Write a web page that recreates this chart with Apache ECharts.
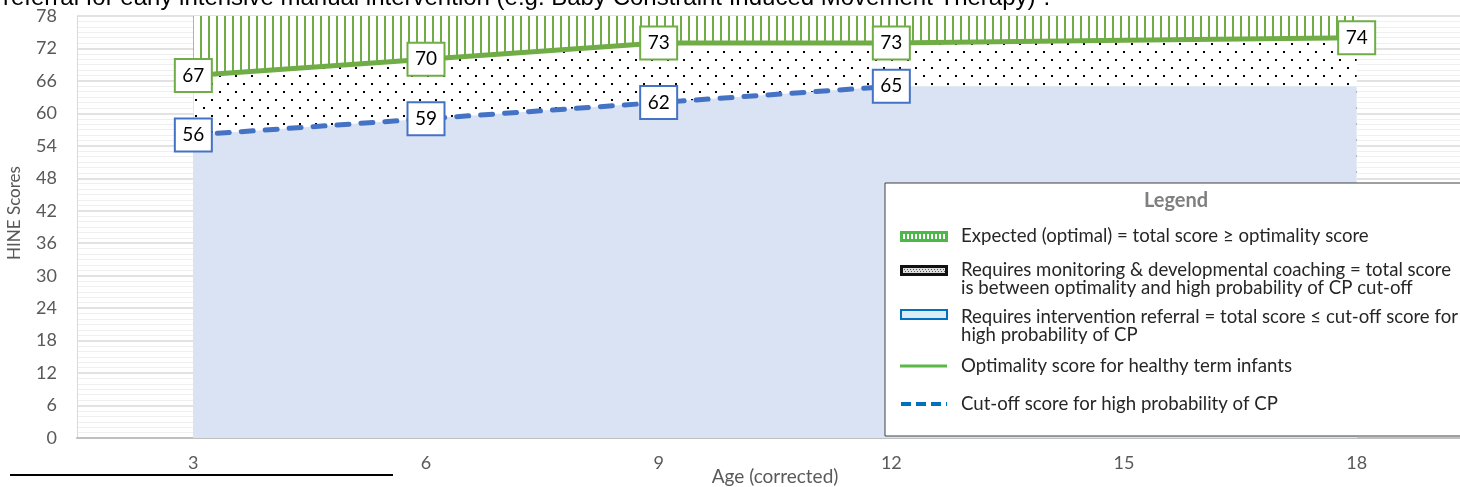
<!DOCTYPE html>
<html>
<head>
<meta charset="utf-8">
<script src="https://cdn.jsdelivr.net/npm/echarts@6/dist/echarts.min.js"></script>
<style>
html,body{margin:0;padding:0;background:#fff;}
#chart{width:1460px;height:487px;}
</style>
</head>
<body>
<div id="chart"></div>
<script>
// ---- data ----
const ages = ['3', '6', '9', '12', '15', '18'];
const yTicks = [0, 6, 12, 18, 24, 30, 36, 42, 48, 54, 60, 66, 72, 78];
const optimality = [67, 70, 73, 73, 73.5, 74];          // green line
const optimalityLabelAges = ['3', '6', '9', '12', '18'];
const cutoff = [56, 59, 62, 65, null, null];            // blue dashed line
const referralZone = [56, 59, 62, 65, 65, 65];          // top of light blue zone
const expectedZoneTop = [78, 78, 78, 78, 78, 78];       // top of hatched zone

const titleText = 'referral for early intensive manual intervention (e.g. Baby Constraint Induced Movement Therapy)\u201D.';
const legendTitle = 'Legend';
const legendLines = [
  ['Expected (optimal) = total score \u2265 optimality score'],
  ['Requires monitoring & developmental coaching = total score', 'is between optimality and high probability of CP cut-off'],
  ['Requires intervention referral = total score \u2264 cut-off score for', 'high probability of CP'],
  ['Optimality score for healthy term infants'],
  ['Cut-off score for high probability of CP']
];

// ---- patterns ----
function hatchPattern() {
  const c = document.createElement('canvas'); c.width = 8; c.height = 8;
  const g = c.getContext('2d');
  g.fillStyle = '#fff'; g.fillRect(0, 0, 8, 8);
  g.fillStyle = '#70AD47'; g.fillRect(0, 0, 2, 8);
  return c;
}
function dotPattern() {
  const c = document.createElement('canvas'); c.width = 16; c.height = 16;
  const g = c.getContext('2d');
  g.fillStyle = '#fff'; g.fillRect(0, 0, 16, 16);
  g.fillStyle = '#000'; g.fillRect(3, 3, 2, 2); g.fillRect(11, 11, 2, 2);
  return c;
}
function iconHatch() {
  const c = document.createElement('canvas'); c.width = 48; c.height = 11;
  const g = c.getContext('2d');
  g.fillStyle = '#4CB848'; g.fillRect(0, 0, 48, 11);
  g.fillStyle = '#fff';
  for (let x = 3; x < 45; x += 4) g.fillRect(x, 3, 2, 5);
  return c.toDataURL();
}
function iconDots() {
  const c = document.createElement('canvas'); c.width = 48; c.height = 11;
  const g = c.getContext('2d');
  g.fillStyle = '#111'; g.fillRect(0, 0, 48, 11);
  g.fillStyle = '#ddd'; g.fillRect(3, 3, 42, 5);
  g.fillStyle = '#555';
  for (let x = 4; x < 45; x += 3) { g.fillRect(x, 4, 1, 1); g.fillRect(x + 1, 6, 1, 1); }
  return c.toDataURL();
}

const FONT = 'Lato, "Open Sans", sans-serif';
const labelBox = (border) => ({
  show: true, position: 'inside', color: '#000', fontSize: 19, fontFamily: FONT, opacity: 1,
  backgroundColor: '#fff', borderColor: border, borderWidth: 2,
  width: 35, height: 31, lineHeight: 31, align: 'center', verticalAlign: 'middle', padding: 0
});

const chart = echarts.init(document.getElementById('chart'), null, {renderer: 'canvas'});

// legend graphic
const LX = 885, LY = 183, LZ = 200;
const legendG = [
  {type: 'rect', z: LZ, shape: {x: LX, y: LY, width: 600, height: 253}, style: {fill: '#fff', stroke: '#404040', lineWidth: 1}},
  {type: 'text', z: LZ + 1, x: 1176, y: 201, style: {text: legendTitle, font: 'bold 20px ' + FONT, fill: '#7F7F7F', align: 'center', verticalAlign: 'middle'}},
  {type: 'image', z: LZ + 1, style: {image: iconHatch(), x: 900, y: 231, width: 48, height: 11}},
  {type: 'image', z: LZ + 1, style: {image: iconDots(), x: 900, y: 265, width: 48, height: 11}},
  {type: 'rect', z: LZ + 1, shape: {x: 901, y: 310, width: 46, height: 9}, style: {fill: '#DDEBF7', stroke: '#0070C0', lineWidth: 2}},
  {type: 'line', z: LZ + 1, shape: {x1: 900, y1: 366, x2: 947, y2: 366}, style: {stroke: '#5DB947', lineWidth: 3}},
  {type: 'line', z: LZ + 1, shape: {x1: 901, y1: 404, x2: 947, y2: 404}, style: {stroke: '#0070C0', lineWidth: 4, lineDash: [10, 5]}}
];
const legendTextY = [[236], [270, 288], [317, 335], [366], [404]];
legendLines.forEach((lines, i) => {
  lines.forEach((t, j) => {
    legendG.push({type: 'text', z: LZ + 1, x: 961, y: legendTextY[i][j],
      style: {text: t, font: '18.6px ' + FONT, fill: '#262626', align: 'left', verticalAlign: 'middle'}});
  });
});

const option = {
  animation: false,
  backgroundColor: '#fff',
  grid: {left: 77, top: 16, width: 1396, height: 422, containLabel: false, outerBoundsMode: 'none'},
  xAxis: {
    type: 'category', data: ages, boundaryGap: true,
    axisLine: {lineStyle: {color: '#BFBFBF', width: 2}},
    axisTick: {show: false},
    axisLabel: {color: '#595959', fontSize: 18, fontFamily: FONT, margin: 16},
    splitLine: {show: false},
    name: 'Age (corrected)', nameLocation: 'middle', nameGap: 39, nameMoveOverlap: false,
    nameTextStyle: {color: '#595959', fontSize: 19, fontFamily: FONT, verticalAlign: 'middle'}
  },
  yAxis: {
    type: 'value', min: yTicks[0], max: yTicks[yTicks.length - 1], interval: 6,
    axisLine: {show: true, lineStyle: {color: '#D9D9D9', width: 1}},
    axisTick: {show: false},
    axisLabel: {color: '#595959', fontSize: 18, fontFamily: FONT, margin: 20},
    splitLine: {show: true, lineStyle: {color: '#D9D9D9', width: 1.5}},
    minorTick: {show: false, splitNumber: 6},
    minorSplitLine: {show: true, lineStyle: {color: '#EFEFEF', width: 1}}
  },
  graphic: [
    {type: 'text', x: 3, y: 10, z: 50, style: {text: titleText, font: '24px "Liberation Sans", Arial, sans-serif', fill: '#000', align: 'left', verticalAlign: 'bottom'}},
    {type: 'text', x: 15, y: 213, rotation: Math.PI / 2, z: 50, style: {text: 'HINE Scores', font: '17px ' + FONT, fill: '#595959', align: 'center', verticalAlign: 'middle'}},
    {type: 'line', z: 50, shape: {x1: 10, y1: 475, x2: 393, y2: 475}, style: {stroke: '#000', lineWidth: 2}},
    {type: 'group', z: LZ, children: legendG}
  ],
  series: [
    {name: 'Expected (optimal)', type: 'line', data: expectedZoneTop, symbol: 'none',
      lineStyle: {width: 0}, areaStyle: {color: {image: hatchPattern(), repeat: 'repeat'}, opacity: 1}, z: 1},
    {name: 'Requires monitoring', type: 'line', data: optimality, symbol: 'none',
      lineStyle: {width: 0}, areaStyle: {color: {image: dotPattern(), repeat: 'repeat'}, opacity: 1}, z: 2},
    {name: 'Requires intervention referral', type: 'line', data: referralZone, symbol: 'none',
      lineStyle: {width: 0}, areaStyle: {color: '#DAE3F3', opacity: 1}, z: 3},
    {name: 'Optimality score', type: 'line', symbol: 'circle', symbolSize: 1, showSymbol: true, z: 5,
      itemStyle: {color: 'rgba(0,0,0,0)', borderWidth: 0},
      data: optimality.map((v, i) => optimalityLabelAges.includes(ages[i]) ? v : {value: v, label: {show: false}}),
      lineStyle: {color: '#70AD47', width: 5},
      label: labelBox('#70AD47')},
    {name: 'Cut-off score', type: 'line', symbol: 'circle', symbolSize: 1, showSymbol: true, z: 6,
      itemStyle: {color: 'rgba(0,0,0,0)', borderWidth: 0},
      data: cutoff,
      lineStyle: {color: '#4472C4', width: 5, type: [12, 12], cap: 'round'},
      label: labelBox('#4472C4')}
  ]
};
chart.setOption(option);
</script>
</body>
</html>
